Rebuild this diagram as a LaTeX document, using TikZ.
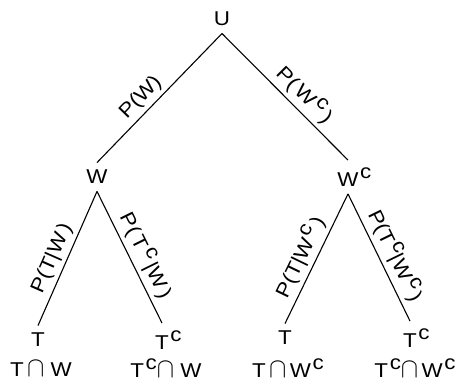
\documentclass[tikz,border=0pt]{standalone}
\usepackage{fontspec}
\setmainfont{Liberation Sans}[FakeStretch=1.12]
\usepackage{graphicx}
\newcommand\compl{\hspace{0.08em}\raisebox{0.4em}{c}}
\newcommand\meet{\scalebox{1.25}[1.35]{$\cap$}}

\begin{document}
\begin{tikzpicture}[x=1pt,y=1pt,line width=1.1pt,
    event/.style={inner sep=7pt,font=\fontsize{20}{24}\selectfont},
    outcome/.style={inner sep=0pt,font=\fontsize{20}{24}\selectfont},
    prob/.style={sloped,above,inner sep=4pt,font=\fontsize{20}{24}\selectfont}]
  \path[use as bounding box] (0,0) rectangle (457,379);
  \path

  (222,360) node [event] (u) {U}

  (97,202) node [event] (w) {W}
  (348,202) node [event] (wc) {W\rlap{\compl}}

  % leaves
  (38,39) node [event] (t1) {T}
  (162,39) node [event] (tc1) {T\rlap{\compl}}
  (285,41) node [event] (t2) {T}
  (410,41) node [event] (tc2) {T\rlap{\compl}}

  (41,10.5) node [outcome] (tw) {T\,\meet\ W}
  (166,10.5) node [outcome] (tcw) {T\compl\meet\ W}
  (288,10.5) node [outcome] (twc) {T\,\meet\,W\compl}
  (415,10.5) node [outcome] (tcwc) {T\compl\meet\,W\compl}
  ;
  \draw (u.south) -- node [prob,pos=0.57] {P(W)} (w.north);
  \draw (u.south) -- node [prob,pos=0.57] {P(\,W\compl\,)} (wc.north);
  \draw (w.south) -- node [prob,pos=0.54] {P(T|W\,)} (t1.north);
  \draw (w.south) -- node [prob,pos=0.54] {P(\,T\compl\,|W\,)} (tc1.north);
  \draw (wc.south) -- node [prob,pos=0.54] {P(T|W\compl\,)} (t2.north);
  \draw (wc.south) -- node [prob,pos=0.54] {P(T\compl|W\compl\,)} (tc2.north);
\end{tikzpicture}
\end{document}
